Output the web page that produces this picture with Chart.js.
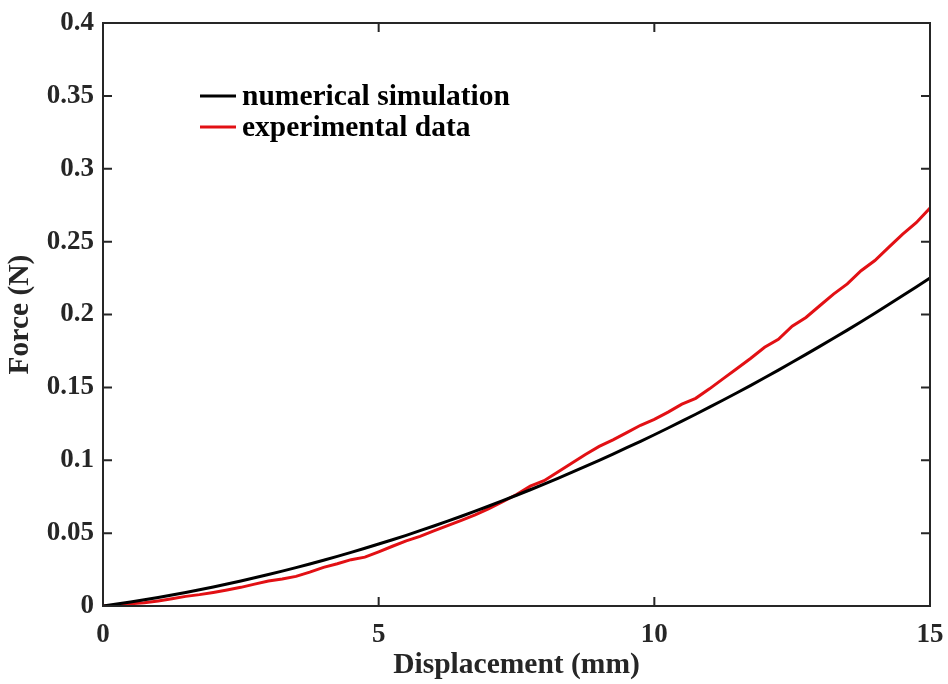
<!DOCTYPE html>
<html>
<head>
<meta charset="utf-8">
<script src="https://cdn.jsdelivr.net/npm/chart.js@4.4.1/dist/chart.umd.min.js"></script>
<style>
  html, body { margin: 0; padding: 0; background: #fff; }
  #wrap { width: 948px; height: 684px; }
</style>
</head>
<body>
<div id="wrap"><canvas id="forceChart" width="948" height="684"></canvas></div>
<script>
// Force vs displacement: simulation and measured curve
const simDisp = [0, 0.5, 1, 1.5, 2, 2.5, 3, 3.5, 4, 4.5, 5, 5.5, 6, 6.5, 7, 7.5,
  8, 8.5, 9, 9.5, 10, 10.5, 11, 11.5, 12, 12.5, 13, 13.5, 14, 14.5, 15];
const simForce = [0, 0.0028, 0.0059, 0.0093, 0.0131, 0.0172, 0.0216, 0.0263, 0.0314,
  0.0368, 0.0425, 0.0485, 0.0549, 0.0616, 0.0686, 0.0760, 0.0836, 0.0916, 0.0999,
  0.1086, 0.1175, 0.1268, 0.1364, 0.1463, 0.1566, 0.1672, 0.1781, 0.1893, 0.2009,
  0.2128, 0.2250];

const expDisp = [0, 0.25, 0.5, 0.75, 1, 1.25, 1.5, 1.75, 2, 2.25, 2.5, 2.75, 3, 3.25,
  3.5, 3.75, 4, 4.25, 4.5, 4.75, 5, 5.25, 5.5, 5.75, 6, 6.25, 6.5, 6.75, 7, 7.25,
  7.5, 7.75, 8, 8.25, 8.5, 8.75, 9, 9.25, 9.5, 9.75, 10, 10.25, 10.5, 10.75, 11,
  11.25, 11.5, 11.75, 12, 12.25, 12.5, 12.75, 13, 13.25, 13.5, 13.75, 14, 14.25,
  14.5, 14.75, 15];
const expForce = [0, 0.0005, 0.0015, 0.0022, 0.0035, 0.0050, 0.0066, 0.0078, 0.0093,
  0.0110, 0.0128, 0.0150, 0.0172, 0.0185, 0.0203, 0.0232, 0.0265, 0.0290, 0.0318,
  0.0335, 0.0372, 0.0410, 0.0447, 0.0478, 0.0515, 0.0552, 0.0588, 0.0625, 0.0668,
  0.0715, 0.0765, 0.0822, 0.0860, 0.0920, 0.0980, 0.1040, 0.1095, 0.1140, 0.1190,
  0.1240, 0.1280, 0.1330, 0.1385, 0.1425, 0.1490, 0.1560, 0.1630, 0.1700, 0.1775,
  0.1830, 0.1920, 0.1980, 0.2060, 0.2140, 0.2210, 0.2300, 0.2370, 0.2460, 0.2550,
  0.2630, 0.2730];

const xTicks = [0, 5, 10, 15];
const yTicks = [0, 0.05, 0.1, 0.15, 0.2, 0.25, 0.3, 0.35, 0.4];

const FONT = '"Liberation Serif", "Times New Roman", serif';
const AXIS_COLOR = '#262626';

function toPoints(xs, ys) {
  return xs.map((x, i) => ({ x: x, y: ys[i] }));
}

// box around the axes with inward tick marks on all four sides
const boxPlugin = {
  id: 'boxTicks',
  afterDatasetsDraw(chart) {
    const { ctx, chartArea: a, scales } = chart;
    const len = 9;
    ctx.save();
    ctx.strokeStyle = AXIS_COLOR;
    ctx.lineWidth = 2;
    ctx.beginPath();
    xTicks.forEach(v => {
      const px = scales.x.getPixelForValue(v);
      ctx.moveTo(px, a.bottom); ctx.lineTo(px, a.bottom - len);
      ctx.moveTo(px, a.top); ctx.lineTo(px, a.top + len);
    });
    yTicks.forEach(v => {
      const py = scales.y.getPixelForValue(v);
      ctx.moveTo(a.left, py); ctx.lineTo(a.left + len, py);
      ctx.moveTo(a.right, py); ctx.lineTo(a.right - len, py);
    });
    ctx.stroke();
    ctx.strokeRect(a.left, a.top, a.right - a.left, a.bottom - a.top);
    ctx.restore();
  }
};

// legend in the upper left of the axes, no frame
const legendPlugin = {
  id: 'innerLegend',
  afterDraw(chart) {
    const { ctx } = chart;
    const x0 = 200, y0 = 96, rowH = 31;
    ctx.save();
    ctx.font = 'bold 29.5px ' + FONT;
    ctx.textBaseline = 'middle';
    ctx.fillStyle = '#000';
    chart.data.datasets.forEach((ds, i) => {
      const y = y0 + i * rowH;
      ctx.strokeStyle = ds.borderColor;
      ctx.lineWidth = 3;
      ctx.beginPath();
      ctx.moveTo(x0, y);
      ctx.lineTo(x0 + 36, y);
      ctx.stroke();
      ctx.fillText(ds.label, x0 + 42, y + 1);
    });
    ctx.restore();
  }
};

new Chart(document.getElementById('forceChart'), {
  type: 'line',
  data: {
    datasets: [
      {
        label: 'numerical simulation',
        data: toPoints(simDisp, simForce),
        borderColor: '#000000',
        borderWidth: 3,
        pointRadius: 0,
        tension: 0.3
      },
      {
        label: 'experimental data',
        data: toPoints(expDisp, expForce),
        borderColor: 'rgb(226, 16, 20)',
        borderWidth: 3,
        pointRadius: 0,
        tension: 0
      }
    ]
  },
  options: {
    responsive: false,
    animation: false,
    layout: { padding: { top: 23, right: 18, left: 0, bottom: 0 } },
    plugins: {
      legend: { display: false },
      tooltip: { enabled: false }
    },
    scales: {
      x: {
        type: 'linear',
        min: 0,
        max: 15,
        grid: { display: false, drawTicks: false },
        border: { display: false },
        afterBuildTicks: s => { s.ticks = xTicks.map(v => ({ value: v })); },
        afterFit: s => {
          s.height = 78;
          s.paddingLeft = 0;
          s.paddingRight = 0;
        },
        ticks: {
          color: '#262626',
          padding: 13,
          maxRotation: 0,
          font: { family: FONT, size: 27, weight: 'bold' },
          callback: v => String(v)
        },
        title: {
          display: true,
          text: 'Displacement (mm)',
          color: '#262626',
          padding: { top: 0, bottom: 1 },
          font: { family: FONT, size: 29.5, weight: 'bold' }
        }
      },
      y: {
        type: 'linear',
        min: 0,
        max: 0.4,
        grid: { display: false, drawTicks: false },
        border: { display: false },
        afterBuildTicks: s => { s.ticks = yTicks.map(v => ({ value: v })); },
        afterFit: s => {
          s.width = 103;
          s.paddingTop = 0;
          s.paddingBottom = 0;
        },
        ticks: {
          color: '#262626',
          padding: 9,
          font: { family: FONT, size: 27, weight: 'bold' },
          callback: v => String(parseFloat(Number(v).toFixed(2)))
        },
        title: {
          display: true,
          text: 'Force (N)',
          color: '#262626',
          padding: { top: 3, bottom: 0 },
          font: { family: FONT, size: 29.5, weight: 'bold' }
        }
      }
    }
  },
  plugins: [boxPlugin, legendPlugin]
});
</script>
</body>
</html>
